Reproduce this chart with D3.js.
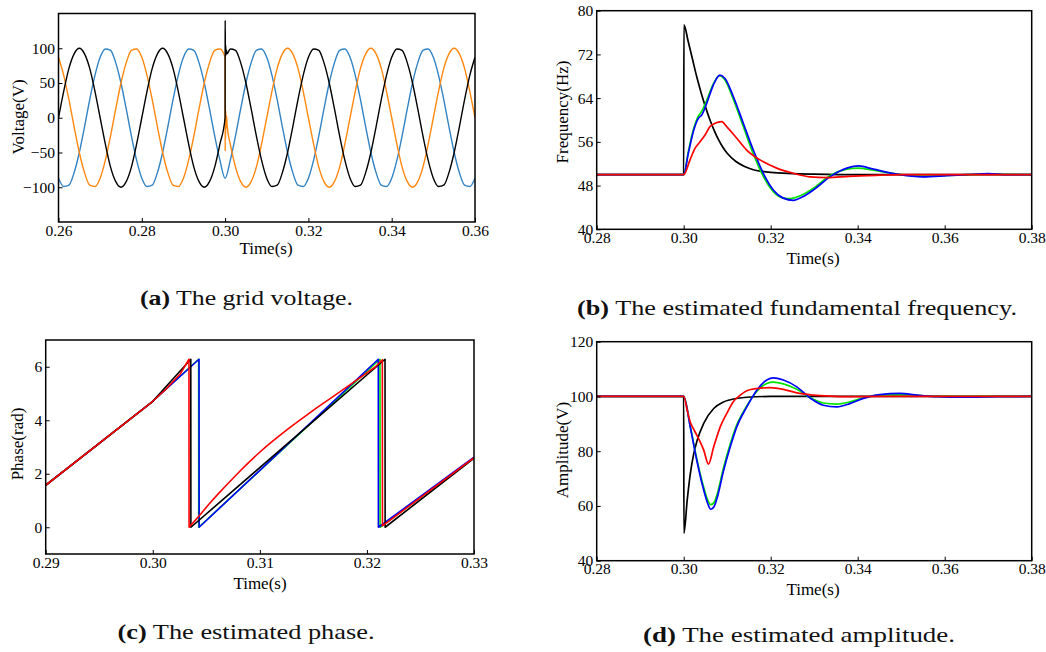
<!DOCTYPE html>
<html><head><meta charset="utf-8">
<script src="https://cdn.jsdelivr.net/npm/d3@7"></script>
<style>body{margin:0;background:#fff}svg{display:block}</style>
</head><body>
<svg id="chart" width="1046" height="652"></svg>
<script>
// ---------------- DATA ----------------
// (a) grid voltage: sample times in ms
const timeA = [260,261.25,262.5,263.75,265,266.25,267.5,268.75,270,271.25,272.5,273.75,275,276.25,277.5,278.75,280,281.25,282.5,283.75,285,286.25,287.5,288.75,290,291.25,292.5,293.75,295,296.25,297.5,298.75,300,
301.25,302.5,303.75,305,306.25,307.5,308.75,310,311.25,312.5,313.75,315,316.25,317.5,318.75,320,321.25,322.5,323.75,325,326.25,327.5,328.75,330,331.25,332.5,333.75,335,336.25,337.5,338.75,340,341.25,342.5,343.75,345,346.25,347.5,348.75,350,351.25,352.5,353.75,355,356.25,357.5,358.75,360];
const voltBlack = [0,38,71,92,100,92,71,38,0,-38,-71,-92,-100,-92,-71,-38,0,38,71,92,100,92,71,38,0,-38,-71,-92,-100,-92,-71,-38,0,
99,97,79,50,13,-26,-61,-87,-99,-97,-79,-50,-13,26,61,87,99,97,79,50,13,-26,-61,-87,-99,-97,-79,-50,-13,26,61,87,99,97,79,50,13,-26,-61,-87,-99,-97,-79,-50,-13,26,61,87];
const voltOrange = [87,61,26,-13,-50,-79,-97,-99,-87,-61,-26,13,50,79,97,99,87,61,26,-13,-50,-79,-97,-99,-87,-61,-26,13,50,79,97,99,87,
-38,-71,-92,-100,-92,-71,-38,0,38,71,92,100,92,71,38,0,-38,-71,-92,-100,-92,-71,-38,0,38,71,92,100,92,71,38,0,-38,-71,-92,-100,-92,-71,-38,0,38,71,92,100,92,71,38,0];
const voltBlue = [-87,-99,-97,-79,-50,-13,26,61,87,99,97,79,50,13,-26,-61,-87,-99,-97,-79,-50,-13,26,61,87,99,97,79,50,13,-26,-61,-87,
-61,-26,13,50,79,97,99,87,61,26,-13,-50,-79,-97,-99,-87,-61,-26,13,50,79,97,99,87,61,26,-13,-50,-79,-97,-99,-87,-61,-26,13,50,79,97,99,87,61,26,-13,-50,-79,-97,-99,-87];
// transient right after the 0.30 s phase jump: [ms, V]
const spikeBlack = [[300.02,140],[300.07,92],[300.13,105],[300.2,90],[300.3,98],[300.45,92]];
const spikeOrange = [[300.02,-48],[300.06,20],[300.1,-30],[300.16,10],[300.24,-15],[300.35,3],[300.5,-12]];

// (b) estimated frequency [s, Hz]
const freqBlack = [[0.28,50],[0.30,50],[0.30005,77.4],[0.301,74.5],[0.302,71.2],[0.303,67.9],[0.304,65.0],[0.305,62.4],[0.306,60.1],[0.307,58.1],[0.308,56.4],[0.309,55.0],[0.310,53.9],[0.312,52.4],[0.314,51.5],[0.316,50.9],[0.318,50.6],[0.320,50.4],[0.325,50.2],[0.330,50.1],[0.340,50.0],[0.380,50]];
const freqGreen = [[0.28,50],[0.30,50],[0.30106,54.2],[0.30222,58.2],[0.30336,60.7],[0.30414,61.6],[0.30529,63.6],[0.30681,66.6],[0.3082,68.1],[0.30949,67.3],[0.3114,63.8],[0.3137,58.8],[0.316,53.8],[0.3183,49.7],[0.3206,46.9],[0.3229,45.7],[0.3244,45.6],[0.3275,46.4],[0.330,47.6],[0.3336,49.8],[0.3375,51.0],[0.340,51.2],[0.3436,50.8],[0.349,50.1],[0.355,49.7],[0.3605,49.85],[0.365,50.0],[0.370,50.1],[0.38,50]];
const freqBlue = [[0.28,50],[0.30,50],[0.30106,53.9],[0.30222,57.9],[0.30336,60.3],[0.30414,60.9],[0.30529,63.05],[0.30681,66.4],[0.30834,68.2],[0.30949,67.6],[0.3114,64.3],[0.3137,59.4],[0.316,54.5],[0.3183,50.25],[0.3206,47.2],[0.3229,45.7],[0.3252,45.3],[0.3275,46.0],[0.330,47.3],[0.3336,49.6],[0.3375,51.2],[0.3402,51.6],[0.3436,51.0],[0.349,50.1],[0.355,49.6],[0.3605,49.8],[0.365,50.0],[0.370,50.2],[0.3745,50.0],[0.38,50]];
const freqRed = [[0.28,50],[0.30,50],[0.30145,52.7],[0.3026,54.8],[0.30375,56.0],[0.3049,57.25],[0.30605,58.8],[0.3072,59.4],[0.30874,59.7],[0.30989,58.8],[0.3122,56.65],[0.31448,54.5],[0.31754,52.7],[0.32138,51.2],[0.3252,50.25],[0.329,49.6],[0.333,49.45],[0.338,49.7],[0.345,49.9],[0.35,50.0],[0.38,50]];

// (c) estimated phase [s, rad]
const phaseGreen = [[0.29,1.57],[0.30,4.71],[0.30428,6.28],[0.30429,0],[0.32122,6.28],[0.32123,0],[0.33,2.6]];
const phaseBlue = [[0.29,1.57],[0.30,4.71],[0.30432,6.28],[0.30433,0],[0.32106,6.28],[0.32107,0],[0.33,2.62]];
const phaseBlack = [[0.29,1.57],[0.30,4.71],[0.30355,6.28],[0.30356,0],[0.32169,6.28],[0.3217,0],[0.33,2.58]];
const phaseRed = [[0.29,1.57],[0.30,4.71],[0.3012,5.15],[0.3026,5.75],[0.30338,6.28],[0.30339,0],[0.3039,0.23],[0.3044,0.46],[0.3052,0.84],[0.306,1.2],[0.3068,1.54],[0.3075,1.83],[0.3082,2.12],[0.3088,2.36],[0.3097,2.7],[0.3106,3.02],[0.3116,3.35],[0.3127,3.7],[0.3138,4.02],[0.3153,4.46],[0.3169,4.9],[0.3184,5.32],[0.32,5.77],[0.3208,6.0],[0.32144,6.26],[0.32145,0.05],[0.33,2.6]];

// (d) estimated amplitude [s, V]
const ampBlack = [[0.28,100],[0.30,100],[0.30005,50],[0.3008,62],[0.3015,71.5],[0.3023,79],[0.3031,84],[0.3046,90.2],[0.3069,95.6],[0.309,97.9],[0.3107,98.8],[0.3145,99.7],[0.32,100],[0.38,100]];
const ampGreen = [[0.28,100],[0.30,100],[0.3015,89.2],[0.303,77.3],[0.3046,66.8],[0.3055,62.2],[0.3062,60.5],[0.307,61.3],[0.3076,63.8],[0.3092,74.2],[0.3107,82.6],[0.3122,89.6],[0.3145,96.5],[0.3168,101.8],[0.3191,104.7],[0.3206,105.2],[0.3229,104.6],[0.326,102.6],[0.329,99.6],[0.3321,97.6],[0.3352,97.2],[0.3382,98.0],[0.3413,99.5],[0.3451,100.5],[0.351,100.7],[0.3582,100.0],[0.38,100]];
const ampBlue = [[0.28,100],[0.30,100],[0.3015,88.9],[0.303,76.7],[0.3046,65.8],[0.3055,61],[0.3062,58.8],[0.307,59.8],[0.3076,62.5],[0.3092,73.1],[0.3107,81.6],[0.3122,88.9],[0.3145,96.2],[0.3168,102.3],[0.3191,106],[0.3206,106.8],[0.3229,106],[0.326,103.5],[0.329,99.5],[0.3321,96.8],[0.3352,96.2],[0.3382,97.4],[0.3413,99.3],[0.3451,100.7],[0.3497,101.1],[0.3536,100.5],[0.3582,99.9],[0.3643,99.7],[0.372,99.9],[0.38,100]];
const ampRed = [[0.28,100],[0.30,100],[0.3008,95],[0.3015,90.7],[0.3022,88.3],[0.303,85.9],[0.3046,80.4],[0.3057,75.3],[0.3069,81.6],[0.3084,88.9],[0.3099,93.8],[0.3114,98.1],[0.313,100.5],[0.3145,102.1],[0.3168,102.9],[0.3198,103.2],[0.3229,102.6],[0.326,101.3],[0.3298,100.5],[0.3336,100.1],[0.3375,99.9],[0.345,100],[0.38,100]];

// tick values
const ticksXa = [0.26,0.28,0.30,0.32,0.34,0.36];
const ticksYa = [-100,-50,0,50,100];
const ticksXbd = [0.28,0.30,0.32,0.34,0.36,0.38];
const ticksYb = [40,48,56,64,72,80];
const ticksXc = [0.29,0.30,0.31,0.32,0.33];
const ticksYc = [0,2,4,6];
const ticksYd = [40,60,80,100,120];

const captions = [
  {tag:"(a)", text:" The grid voltage."},
  {tag:"(b)", text:" The estimated fundamental frequency."},
  {tag:"(c)", text:" The estimated phase."},
  {tag:"(d)", text:" The estimated amplitude."}
];

// ---------------- BUILD ----------------
function join(ms, vals, spike) {
  const out = [];
  ms.forEach((t, i) => {
    out.push([t / 1000, vals[i]]);
    if (t === 300 && spike) spike.forEach(s => out.push([s[0] / 1000, s[1]]));
  });
  return out;
}
const C = {black:"#000000", green:"#00e400", blue:"#0000ff", red:"#ff0000", orange:"#ff870f", sky:"#3283c4"};

const panels = [
  {x0:58.5, x1:475, y0:13.5, y1:222, xd:[0.26,0.36], yd:[-150,150], xt:ticksXa, yt:ticksYa, xf:d3.format(".2f"),
   ylab:"Voltage(V)", ylx:18, yly:117, xlx:266, xly:248, curve:d3.curveMonotoneX, lw:1.4,
   series:[[join(timeA, voltBlue, null), C.sky],[join(timeA, voltOrange, spikeOrange), C.orange],[join(timeA, voltBlack, spikeBlack), C.black]]},
  {x0:596.7, x1:1031.7, y0:10.7, y1:229.3, xd:[0.28,0.38], yd:[40,80], xt:ticksXbd, yt:ticksYb, xf:d3.format(".2f"),
   ylab:"Frequency(Hz)", ylx:562, yly:112, xlx:813, xly:258, curve:d3.curveMonotoneX, lw:1.7,
   series:[[freqBlack,C.black],[freqGreen,C.green],[freqBlue,C.blue],[freqRed,C.red]]},
  {x0:45.7, x1:474, y0:340, y1:554, xd:[0.29,0.33], yd:[-1,7], xt:ticksXc, yt:ticksYc, xf:d3.format(".2f"),
   ylab:"Phase(rad)", ylx:17, yly:444, xlx:260, xly:583, curve:d3.curveLinear, lw:1.6,
   series:[[phaseGreen,C.green],[phaseBlue,C.blue],[phaseBlack,C.black],[phaseRed,C.red]]},
  {x0:596.7, x1:1031.7, y0:341.7, y1:560.7, xd:[0.28,0.38], yd:[40,120], xt:ticksXbd, yt:ticksYd, xf:d3.format(".2f"),
   ylab:"Amplitude(V)", ylx:562, yly:450, xlx:813, xly:589, curve:d3.curveMonotoneX, lw:1.7,
   series:[[ampBlack,C.black],[ampGreen,C.green],[ampBlue,C.blue],[ampRed,C.red]]}
];

const svg = d3.select("#chart");
const tickFont = "'Liberation Serif','Times New Roman',serif";

panels.forEach((p, i) => {
  const x = d3.scaleLinear().domain(p.xd).range([p.x0, p.x1]);
  const y = d3.scaleLinear().domain(p.yd).range([p.y1, p.y0]);
  const g = svg.append("g");
  const cid = "clip" + i;
  svg.append("clipPath").attr("id", cid).append("rect")
    .attr("x", p.x0).attr("y", p.y0).attr("width", p.x1 - p.x0).attr("height", p.y1 - p.y0);
  const line = d3.line().x(d => x(d[0])).y(d => y(d[1])).curve(p.curve);
  const lg = g.append("g").attr("clip-path", `url(#${cid})`);
  p.series.forEach(s => {
    lg.append("path").attr("d", line(s[0])).attr("fill", "none")
      .attr("stroke", s[1]).attr("stroke-width", p.lw).attr("stroke-linejoin", "round");
  });
  // axes
  const ax = g.append("g").attr("transform", `translate(0,${p.y1})`)
    .call(d3.axisBottom(x).tickValues(p.xt).tickFormat(p.xf).tickSizeInner(-4).tickSizeOuter(0).tickPadding(2.5));
  const ay = g.append("g").attr("transform", `translate(${p.x0},0)`)
    .call(d3.axisLeft(y).tickValues(p.yt).tickFormat(d3.format("d")).tickSizeInner(-4).tickSizeOuter(0).tickPadding(3.5));
  [ax, ay].forEach(a => {
    a.select(".domain").remove();
    a.selectAll("text").attr("font-family", tickFont).attr("font-size", 15.5).attr("fill", "#000");
    a.selectAll("line").attr("stroke", "#000").attr("stroke-width", 1);
  });
  // frame
  g.append("rect").attr("x", p.x0).attr("y", p.y0).attr("width", p.x1 - p.x0).attr("height", p.y1 - p.y0)
    .attr("fill", "none").attr("stroke", "#000").attr("stroke-width", 1.5);
  // labels
  g.append("text").attr("transform", `translate(${p.ylx},${p.yly}) rotate(-90)`)
    .attr("text-anchor", "middle").attr("dominant-baseline", "central")
    .attr("font-family", tickFont).attr("font-size", 17).text(p.ylab);
  g.append("text").attr("x", p.xlx).attr("y", p.xly)
    .attr("text-anchor", "middle").attr("dominant-baseline", "central")
    .attr("font-family", tickFont).attr("font-size", 17).text("Time(s)");
});

// captions
const capPos = [[246.5,298,213],[797,308,440],[246,632,257],[799,635,312]];
captions.forEach((c, i) => {
  const [cx, cy, w] = capPos[i];
  const t = svg.append("text").attr("x", cx).attr("y", cy)
    .attr("text-anchor", "middle").attr("dominant-baseline", "central")
    .attr("font-family", "'Liberation Serif',serif").attr("font-size", 21).attr("fill", "#111");
  t.append("tspan").attr("font-weight", "bold").text(c.tag);
  t.append("tspan").text(c.text);
  t.attr("textLength", w).attr("lengthAdjust", "spacingAndGlyphs");
});
</script>
</body></html>
